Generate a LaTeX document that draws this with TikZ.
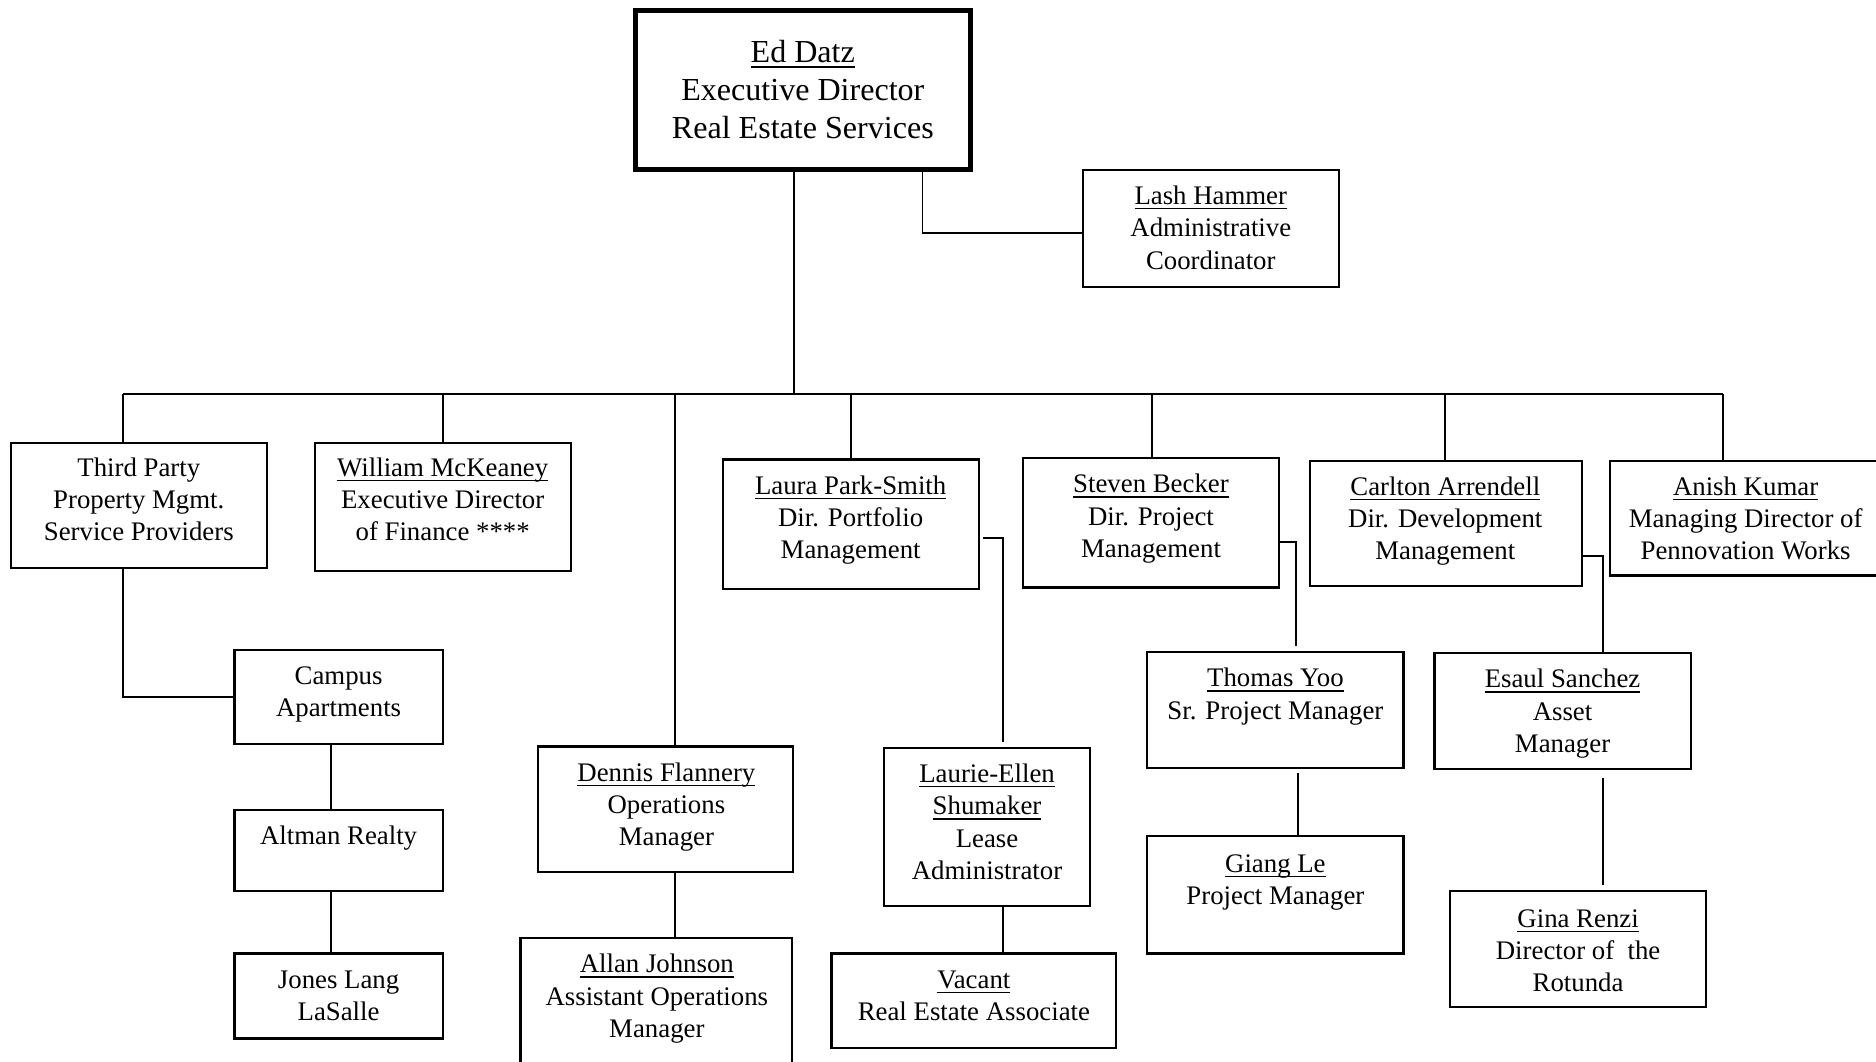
\documentclass[tikz,border=0pt]{standalone}
\usepackage{fontspec}
\setmainfont{Liberation Serif}
\usetikzlibrary{fit}
\newcommand\myul[1]{\leavevmode\setbox0\hbox{#1}\rlap{\rule[-0.18em]{\wd0}{0.05em}}\box0}
\newcommand\orgbox[6][]{\node[box,#1,fit={(#3,#4)(#5,#6)}] (#2) {};}
\begin{document}
\begin{tikzpicture}[x=0.5pt,y=-0.5pt,
  box/.style={draw,line width=0.9pt,inner sep=0pt},
  bigbox/.style={line width=2pt},
  lbl/.style={font=\fontsize{11.2}{13.5}\selectfont,align=center,anchor=base,inner sep=0pt},
  biglbl/.style={font=\fontsize{13.4}{16}\selectfont},
  conn/.style={line width=0.8pt}]
\useasboundingbox (0,0) rectangle (1568,887);
\clip (0,0) rectangle (1568,887);
% boxes
\orgbox[bigbox]{ed}{531}{9}{811}{142}
\orgbox{lash}{905}{142}{1119}{240}
\orgbox{tp}{9}{370}{223}{475}
\orgbox{wm}{263}{370}{477}{477}
\orgbox{laura}{604}{384}{818}{492}
\orgbox{steven}{855}{383}{1069}{491}
\orgbox{carlton}{1095}{385}{1322}{490}
\orgbox{anish}{1346}{385}{1574}{481}
\orgbox{campus}{196}{543}{370}{622}
\orgbox{altman}{196}{677}{370}{745}
\orgbox{jones}{196}{797}{370}{868}
\orgbox{dennis}{450}{624}{663}{729}
\orgbox{allan}{435}{784}{662}{895}
\orgbox{laurie}{739}{625}{911}{757}
\orgbox{vacant}{695}{797}{933}{876}
\orgbox{thomas}{959}{545}{1173}{642}
\orgbox{giang}{959}{699}{1173}{797}
\orgbox{esaul}{1199}{546}{1413}{643}
\orgbox{gina}{1212}{745}{1426}{842}
% labels (anchor base = last line's baseline)
\node[lbl,biglbl] at (671,116) {\myul{Ed Datz}\\Executive Director\\Real Estate Services};
\node[lbl] at (1012,225) {\myul{Lash Hammer}\\Administrative\\Coordinator};
\node[lbl] at (116,452) {Third Party\\Property Mgmt.\\Service Providers};
\node[lbl] at (370,452) {\myul{William McKeaney}\\Executive Director\\of Finance ****};
\node[lbl] at (711,467) {\myul{Laura Park-Smith}\\Dir. Portfolio\\Management};
\node[lbl] at (962,466) {\myul{Steven Becker}\\Dir. Project\\Management};
\node[lbl] at (1208,468) {\myul{Carlton Arrendell}\\Dir. Development\\Management};
\node[lbl] at (1459,468) {\myul{Anish Kumar}\\Managing Director of\\Pennovation Works};
\node[lbl] at (283,599) {Campus\\Apartments};
\node[lbl] at (283,706) {Altman Realty};
\node[lbl] at (283,853) {Jones Lang\\LaSalle};
\node[lbl] at (557,707) {\myul{Dennis Flannery}\\Operations\\Manager};
\node[lbl] at (549,867) {\myul{Allan Johnson}\\Assistant Operations\\Manager};
\node[lbl] at (825,735) {\myul{Laurie-Ellen}\\\myul{Shumaker}\\Lease\\Administrator};
\node[lbl] at (814,853) {\myul{Vacant}\\Real Estate Associate};
\node[lbl] at (1066,601) {\myul{Thomas Yoo}\\Sr. Project Manager};
\node[lbl] at (1066,756) {\myul{Giang Le}\\Project Manager};
\node[lbl] at (1306,629) {\myul{Esaul Sanchez}\\Asset\\Manager};
\node[lbl] at (1319,829) {\myul{Gina Renzi}\\Director of~~the\\Rotunda};
% bus coordinates
\coordinate (d1) at (103,329);
\coordinate (d2) at (370,329);
\coordinate (d3) at (564,329);
\coordinate (trunk) at (664,329);
\coordinate (d4) at (711,329);
\coordinate (d5) at (963,329);
\coordinate (d6) at (1208,329);
\coordinate (d7) at (1440,329);
\coordinate (lashx) at (771,195);
\coordinate (cx) at (277,0);
\coordinate (lpa) at (822,450);
\coordinate (lpb) at (838,620);
\coordinate (lx) at (838,0);
\coordinate (spa) at (1069,453);
\coordinate (spb) at (1083,540);
\coordinate (tx) at (1085,646);
\coordinate (cpa) at (1322,465);
\coordinate (cpb) at (1340,545);
\coordinate (ex) at (1340,650);
\coordinate (ey) at (1340,740);
% connectors
\draw[conn] (trunk |- ed.south) -- (trunk);
\draw[conn] (lashx |- ed.south) -- (lashx) -- (lashx -| lash.west);
\draw[conn] (d1) -- (d7);
\foreach \d/\b in {d1/tp,d2/wm,d3/dennis,d4/laura,d5/steven,d6/carlton,d7/anish}
  \draw[conn] (\d) -- (\d |- \b.north);
\draw[conn] (d1 |- tp.south) |- (campus.west);
\draw[conn] (cx |- campus.south) -- (cx |- altman.north);
\draw[conn] (cx |- altman.south) -- (cx |- jones.north);
\draw[conn] (d3 |- dennis.south) -- (d3 |- allan.north);
\draw[conn] (lpa) -| (lpb);
\draw[conn] (lx |- laurie.south) -- (lx |- vacant.north);
\draw[conn] (spa) -| (spb);
\draw[conn] (tx) -- (tx |- giang.north);
\draw[conn] (cpa) -| (cpb);
\draw[conn] (ex) -- (ey);
\end{tikzpicture}
\end{document}
